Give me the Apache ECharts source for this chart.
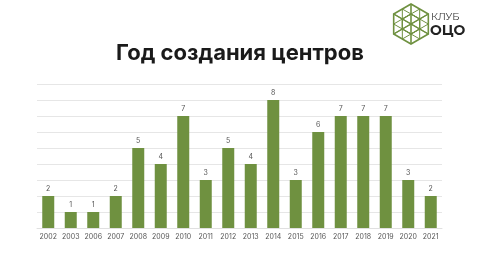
<!DOCTYPE html>
<html>
<head>
<meta charset="utf-8">
<script src="https://cdn.jsdelivr.net/npm/echarts@6/dist/echarts.min.js"></script>
<style>
  html, body { margin: 0; padding: 0; background: #fff; }
  #chart { width: 480px; height: 270px; }
</style>
</head>
<body>
<div id="chart"></div>
<script>
// год создания центров
const years = ['2002', '2003', '2006', '2007', '2008', '2009', '2010', '2011', '2012',
  '2013', '2014', '2015', '2016', '2017', '2018', '2019', '2020', '2021']
const counts = [2, 1, 1, 2, 5, 4, 7, 3, 5, 4, 8, 3, 6, 7, 7, 7, 3, 2]

const green = '#6f9140'

// логотип: шестиугольник с сеткой
function hexPoints(cx, cy, r) {
  let pts = []
  for (let i = 0; i < 6; i++) {
    let a = Math.PI / 180 * (60 * i - 90)
    pts.push([cx + r * Math.cos(a), cy + r * Math.sin(a)])
  }
  return pts
}
const hcx = 411, hcy = 24, hr = 20
const outer = hexPoints(hcx, hcy, hr)
const inner = hexPoints(hcx, hcy, hr / 2)
let logo = [{
  type: 'polygon',
  shape: { points: outer },
  style: { fill: 'none', stroke: green, lineWidth: 1.6 }
}, {
  type: 'polygon',
  shape: { points: inner },
  style: { fill: 'none', stroke: green, lineWidth: 1.2 }
}]
for (let i = 0; i < 6; i++) {
  logo.push({
    type: 'line',
    shape: { x1: outer[i][0], y1: outer[i][1], x2: outer[(i + 3) % 6][0], y2: outer[(i + 3) % 6][1] },
    style: { stroke: green, lineWidth: 1.1 }
  })
  let m1 = [(outer[i][0] + outer[(i + 1) % 6][0]) / 2, (outer[i][1] + outer[(i + 1) % 6][1]) / 2]
  logo.push({
    type: 'line',
    shape: { x1: m1[0], y1: m1[1], x2: inner[(i + 2) % 6][0], y2: inner[(i + 2) % 6][1] },
    style: { stroke: green, lineWidth: 1 }
  })
  logo.push({
    type: 'line',
    shape: { x1: m1[0], y1: m1[1], x2: inner[(i + 5) % 6][0], y2: inner[(i + 5) % 6][1] },
    style: { stroke: green, lineWidth: 1 }
  })
}
logo.push({
  type: 'text', left: 431, top: 12,
  style: { text: 'КЛУБ', fontSize: 10, fontFamily: 'Montserrat, Inter, sans-serif', fill: '#333' }
})
logo.push({
  type: 'text', left: 430, top: 24,
  style: { text: 'ОЦО', fontSize: 14, fontWeight: 'bold', fontFamily: 'Montserrat, Inter, sans-serif', fill: '#222' }
})

const chart = echarts.init(document.getElementById('chart'))
chart.setOption({
  backgroundColor: '#ffffff',
  animation: false,
  title: {
    text: 'Год создания центров',
    left: 'center',
    top: 37,
    textStyle: {
      fontFamily: 'Inter, "Open Sans", sans-serif',
      fontWeight: 'bold',
      fontSize: 22,
      color: '#1a1a1a'
    }
  },
  graphic: logo,
  grid: {
    top: 84,
    left: 37,
    right: 38,
    bottom: 42
  },
  xAxis: {
    type: 'category',
    data: years,
    axisTick: { show: false },
    axisLine: { lineStyle: { color: '#e0e0e0' } },
    axisLabel: {
      interval: 0,
      fontSize: 7,
      color: '#555',
      margin: 5,
      fontFamily: 'Inter, sans-serif'
    }
  },
  yAxis: {
    type: 'value',
    min: 0,
    max: 9,
    interval: 1,
    axisLabel: { show: false },
    axisLine: { show: false },
    axisTick: { show: false },
    splitLine: { lineStyle: { color: '#e6e6e6' } }
  },
  series: [{
    type: 'bar',
    data: counts,
    barWidth: 12,
    itemStyle: { color: green },
    label: {
      show: true,
      position: 'top',
      distance: 4,
      fontSize: 7,
      color: '#555',
      fontFamily: 'Inter, sans-serif'
    }
  }]
})
</script>
</body>
</html>
